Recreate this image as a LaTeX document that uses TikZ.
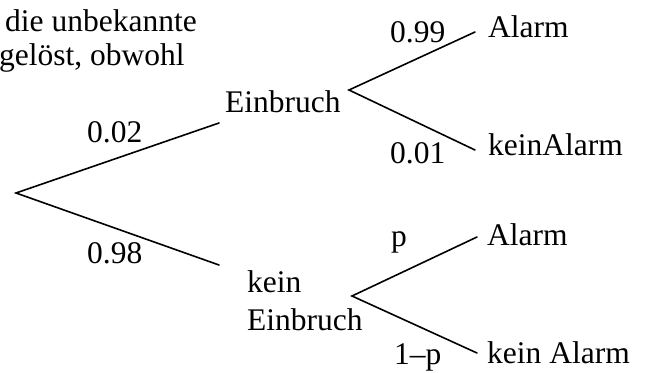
\documentclass[tikz,border=0pt]{standalone}
\usepackage{fontspec}
\setmainfont{Liberation Serif}
\begin{document}
\begin{tikzpicture}[x=1pt,y=-1pt,
  lbl/.style={inner sep=0pt,anchor=base west,font=\fontsize{31.5}{38}\selectfont},
  branch/.style={line width=1.6pt,line cap=round,line join=miter}]
\useasboundingbox (0,0) rectangle (647,372);

% text fragment at the top left
\node[lbl] (t1) at (5,31) {die unbekannte};
\node[lbl] (t2) at (-1,65) {gelöst, obwohl};

% branch points of the tree
\coordinate (root) at (16,193);
\coordinate (ein) at (219,123);
\coordinate (einfork) at (349,90);
\coordinate (kein) at (219,265);
\coordinate (keinfork) at (352,296);
\coordinate (a1) at (475,32);
\coordinate (n1) at (475,150);
\coordinate (a2) at (477,237);
\coordinate (n2) at (477,353);

% first stage
\draw[branch] (ein) -- (root) -- (kein);
\node[lbl] (p02) at (87,142) {0.02};
\node[lbl] (p98) at (87,263) {0.98};
\node[lbl] (E) at (225,112) {Einbruch};
\node[lbl] (K1) at (247,292) {kein};
\node[lbl] (K2) at (247,330) {Einbruch};

% second stage after Einbruch
\draw[branch] (a1) -- (einfork) -- (n1);
\node[lbl] (p99) at (390,42) {0.99};
\node[lbl] (p01) at (390,163) {0.01};
\node[lbl] (A1) at (488,37) {Alarm};
\node[lbl] (N1) at (488,155) {keinAlarm};

% second stage after kein Einbruch
\draw[branch] (a2) -- (keinfork) -- (n2);
\node[lbl] (pp) at (391,246) {p};
\node[lbl] (pq) at (394,364) {1–p};
\node[lbl] (A2) at (487,245) {Alarm};
\node[lbl] (N2) at (487,363) {kein Alarm};
\end{tikzpicture}
\end{document}
